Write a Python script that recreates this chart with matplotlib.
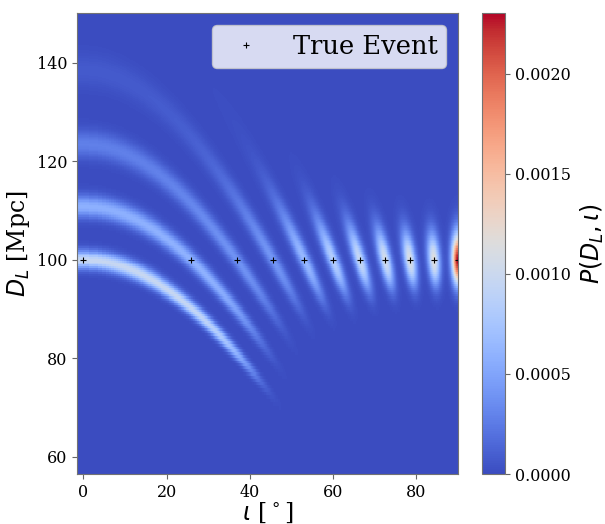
import numpy as np
import matplotlib.pyplot as plt

plt.rcParams['font.family'] = 'serif'

# true events: all at 100 Mpc, cos(iota) stepped by 0.1
true_cos_iota = [1.0, 0.9, 0.8, 0.7, 0.6, 0.5, 0.4, 0.3, 0.2, 0.1, 0.0]
true_dist = 100.0
noise = 0.0175   # per polarisation, relative to face-on at 100 Mpc

# grid that is uniform in cos(iota) and in volume (D^3)
n_cos, n_dist = 800, 287
d_min, d_max = 57.1, 150.0
cos_grid = np.linspace(1.0, 0.0, n_cos)
dist_grid = np.cbrt(np.linspace(d_min**3, d_max**3, n_dist))
C, D = np.meshgrid(cos_grid, dist_grid)


def hplus(c, d):
    return 0.5 * (1 + c**2) * true_dist / d


def hcross(c, d):
    return c * true_dist / d


post = np.zeros_like(C)
for ct in true_cos_iota:
    chi2 = (hplus(C, D) - hplus(ct, true_dist))**2 + (hcross(C, D) - hcross(ct, true_dist))**2
    like = np.exp(-0.5 * chi2 / noise**2)
    post += like / like.sum()

iota_grid = np.degrees(np.arccos(cos_grid))
true_iota = np.degrees(np.arccos(true_cos_iota))

fig = plt.figure(figsize=(6.05, 5.24), dpi=100)
ax = fig.add_axes([0.128, 0.0954, 0.629, 0.8796])
cax = fig.add_axes([0.797, 0.0954, 0.038, 0.8796])

pc = ax.pcolormesh(iota_grid, dist_grid, post, shading='nearest', cmap='coolwarm')
ax.plot(true_iota, [true_dist] * len(true_iota), '+', color='k', ms=5, mew=0.8,
        label='True Event')

ax.set_xticks([0, 20, 40, 60, 80])
ax.set_yticks([60, 80, 100, 120, 140])
ax.tick_params(labelsize=11.5, color='0.4')
for s in ax.spines.values():
    s.set_edgecolor('0.45')
ax.set_xlabel(r'$\iota$ [$^\circ$]', fontsize=17, labelpad=0)
ax.set_ylabel(r'$D_L$ [Mpc]', fontsize=17, labelpad=4)
ax.legend(loc='upper right', fontsize=18.5, handletextpad=0.8, borderpad=0.35,
          borderaxespad=0.45)

cb = fig.colorbar(pc, cax=cax, format='%.4f')
cb.set_ticks([0, 0.0005, 0.001, 0.0015, 0.002])
cb.ax.tick_params(labelsize=11.5, color='0.4')
cb.outline.set_edgecolor('0.45')
cb.set_label(r'$P(D_L, \iota)$', fontsize=17, labelpad=6)

fig.savefig('out.png', dpi=100)
